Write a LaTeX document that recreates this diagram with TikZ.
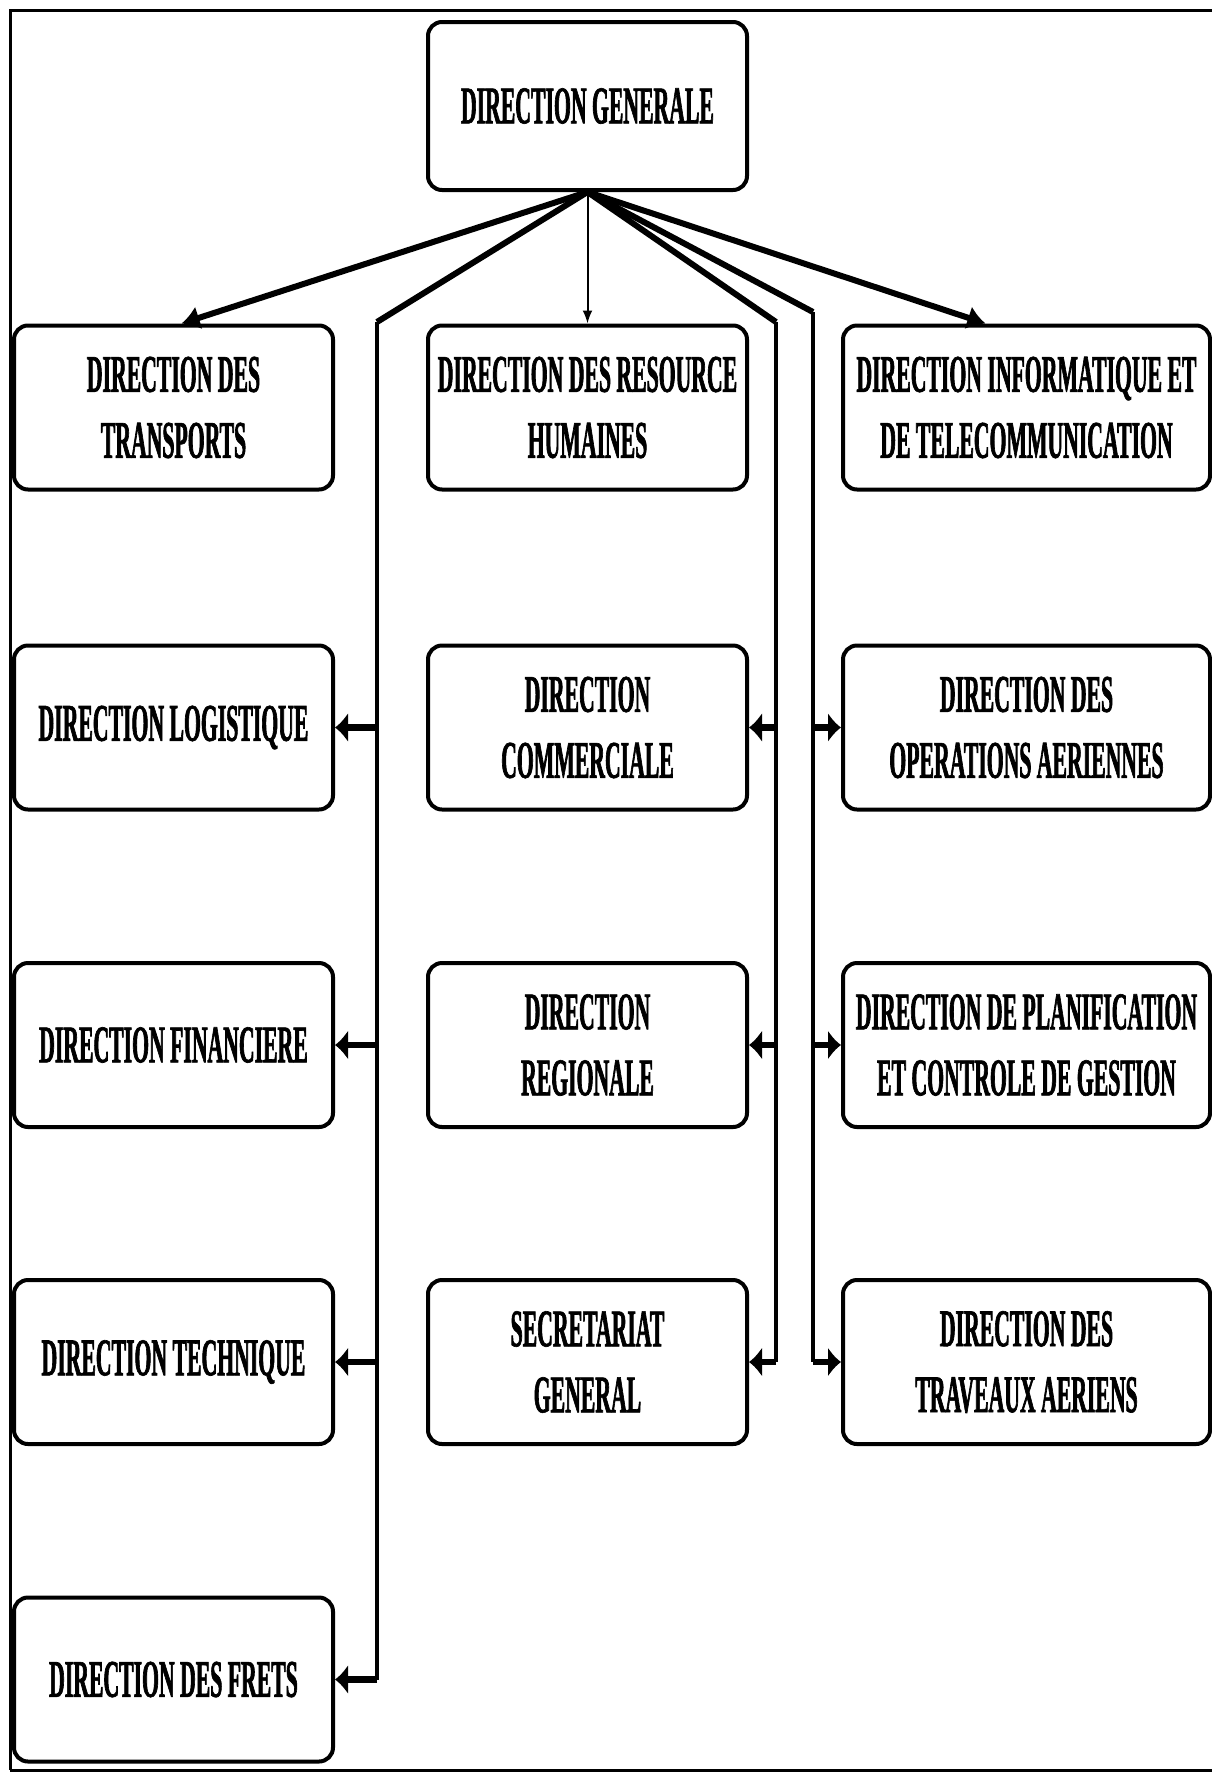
\documentclass[tikz,border=0pt]{standalone}
\usepackage{fontspec}
\newfontfamily\orgfont[FakeStretch=0.41,FakeBold=1.2]{Liberation Serif}
\usetikzlibrary{arrows.meta}
\begin{document}
\begin{tikzpicture}[x=1pt,y=-1pt,
  box/.style={draw, line width=4pt, rounded corners=14pt, minimum height=164pt,
    inner sep=0pt, align=center, font=\orgfont\bfseries\fontsize{53}{66}\selectfont},
  lbox/.style={box, minimum width=319pt},
  rbox/.style={box, minimum width=367pt},
  bus/.style={line width=3.5pt},
  fat/.style={line width=6pt},
  fatarrow/.style={line width=6pt, -{Latex[length=18pt,width=24pt]}},
  thinarrow/.style={line width=2pt, -{Latex[length=13pt,width=10pt]}},
  branch/.style={line width=6.5pt, -{Latex[length=13pt,width=30pt]}},
  frame/.style={line width=3pt}
]
\useasboundingbox (0,0) rectangle (1212,1773);
\draw[frame] (10,1770) -- (10,10) -- (1216,10);
\draw[frame] (10,1770) -- (1216,1770);

% nodes
\node[lbox, minimum height=168pt] (dg) at (587.5,106) {DIRECTION GENERALE};

\node[lbox] (dt)  at (173.5,407.5) {DIRECTION DES\\TRANSPORTS};
\node[lbox] (drh) at (587.5,407.5) {DIRECTION DES RESOURCE\\HUMAINES};
\node[rbox] (dit) at (1026.5,407.5) {DIRECTION INFORMATIQUE ET\\DE TELECOMMUNICATION};

\node[lbox] (dl)  at (173.5,727.5) {DIRECTION LOGISTIQUE};
\node[lbox] (dc)  at (587.5,727.5) {DIRECTION\\COMMERCIALE};
\node[rbox] (doa) at (1026.5,727.5) {DIRECTION DES\\OPERATIONS AERIENNES};

\node[lbox] (dfi) at (173.5,1045) {DIRECTION FINANCIERE};
\node[lbox] (dr)  at (587.5,1045) {DIRECTION\\REGIONALE};
\node[rbox] (dpc) at (1026.5,1045) {DIRECTION DE PLANIFICATION\\ET CONTROLE DE GESTION};

\node[lbox] (dte) at (173.5,1362) {DIRECTION TECHNIQUE};
\node[lbox] (sg)  at (587.5,1362) {SECRETARIAT\\GENERAL};
\node[rbox] (dta) at (1026.5,1362) {DIRECTION DES\\TRAVEAUX AERIENS};

\node[lbox] (dfr) at (173.5,1679.5) {DIRECTION DES FRETS};

% bus corners
\coordinate (lb) at (377,322);
\coordinate (mb) at (776,322);
\coordinate (rb) at (813,312);

% direct arrows from the top
\draw[fatarrow] (dg.south) -- ([xshift=8pt]dt.north);
\draw[thinarrow] (dg.south) -- (drh.north);
\draw[fatarrow] (dg.south) -- ([xshift=-41pt]dit.north);

% left bus
\draw[fat] (dg.south) -- (lb);
\draw[bus] (lb) -- (lb |- dfr.east);
\draw[branch] (lb |- dl.east) -- (dl.east);
\draw[branch] (lb |- dfi.east) -- (dfi.east);
\draw[branch] (lb |- dte.east) -- (dte.east);
\draw[branch] (lb |- dfr.east) -- (dfr.east);

% middle bus
\draw[fat] (dg.south) -- (mb);
\draw[bus] (mb) -- (mb |- sg.east);
\draw[branch] (mb |- dc.east) -- (dc.east);
\draw[branch] (mb |- dr.east) -- (dr.east);
\draw[branch] (mb |- sg.east) -- (sg.east);

% right bus
\draw[fat] (dg.south) -- (rb);
\draw[bus] (rb) -- (rb |- dta.west);
\draw[branch] (rb |- doa.west) -- (doa.west);
\draw[branch] (rb |- dpc.west) -- (dpc.west);
\draw[branch] (rb |- dta.west) -- (dta.west);
\end{tikzpicture}
\end{document}
